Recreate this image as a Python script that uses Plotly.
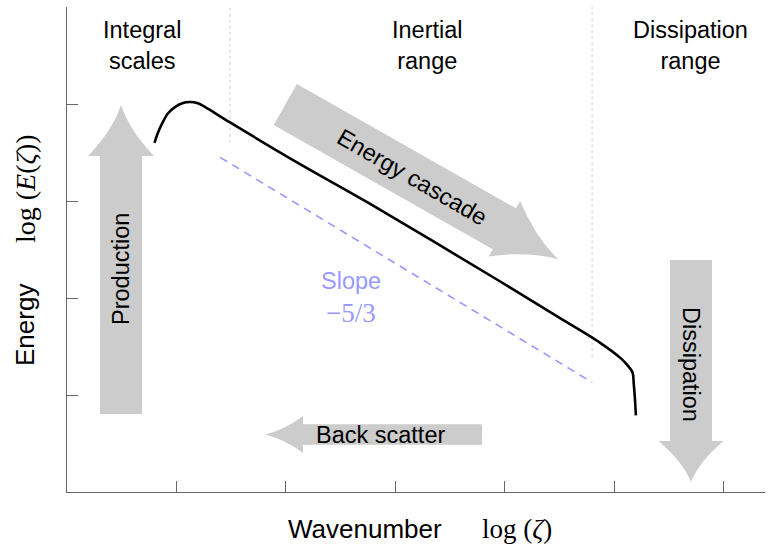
import math
import plotly.graph_objects as go

# ---- data -------------------------------------------------------------
# Schematic turbulent energy spectrum: log wavenumber vs log energy
log_k = [0.80, 0.83, 0.87, 0.92, 0.99, 1.06, 1.12, 1.19, 1.26, 1.49, 2.13,
         2.74, 3.96, 4.51, 4.87, 5.06, 5.12, 5.17, 5.18, 5.19, 5.20]
log_E = [3.60, 3.70, 3.80, 3.90, 3.97, 4.01, 4.02, 4.01, 3.97, 3.81, 3.38,
         2.99, 2.17, 1.79, 1.54, 1.38, 1.31, 1.23, 1.12, 0.98, 0.79]

# Kolmogorov -5/3 reference line
slope_k = [1.40, 4.80]
slope_E = [3.45, 1.13]

# Boundaries between the integral, inertial and dissipation ranges
divider_k = [1.49, 4.80]
divider_lo = [3.60, 1.39]

x_ticks = [1, 2, 3, 4, 5, 6]
y_ticks = [1, 2, 3, 4]

region_labels = ["Integral<br>scales", "Inertial<br>range", "Dissipation<br>range"]

# ---- layout geometry --------------------------------------------------
W, H = 768, 549
ML, MR, MT, MB = 67, 3, 7, 57
X_RANGE = [0, 6.38]
Y_RANGE = [0, 5.0]
PW, PH = W - ML - MR, H - MT - MB
SX = PW / (X_RANGE[1] - X_RANGE[0])
SY = PH / (Y_RANGE[1] - Y_RANGE[0])

SANS = "Liberation Sans, Arial, sans-serif"
SERIF = "Liberation Serif, Times New Roman, serif"
GREY = "#cccccc"
SLOPE_COLOR = "#9999ff"


def to_data(px, py):
    """Pixel position in the page -> axis data coordinates."""
    return (px - ML) / SX + X_RANGE[0], (H - MB - py) / SY + Y_RANGE[0]


def arrow_path(tail, tip, shaft_w, head_w, head_len, bow=8.0):
    """Block arrow with concave head sides, laid out in pixels."""
    dx, dy = tip[0] - tail[0], tip[1] - tail[1]
    L = math.hypot(dx, dy)
    ux, uy = dx / L, dy / L
    nx, ny = -uy, ux
    bx, by = tip[0] - ux * head_len, tip[1] - uy * head_len

    def pt(x, y):
        X, Y = to_data(x, y)
        return f"{X:.4f},{Y:.4f}"

    s, h = shaft_w / 2, head_w / 2
    t1 = (tail[0] + nx * s, tail[1] + ny * s)
    b1 = (bx + nx * s, by + ny * s)
    h1 = (bx + nx * h, by + ny * h)
    h2 = (bx - nx * h, by - ny * h)
    b2 = (bx - nx * s, by - ny * s)
    t2 = (tail[0] - nx * s, tail[1] - ny * s)
    c1 = ((h1[0] + tip[0]) / 2 - nx * bow, (h1[1] + tip[1]) / 2 - ny * bow)
    c2 = ((h2[0] + tip[0]) / 2 + nx * bow, (h2[1] + tip[1]) / 2 + ny * bow)
    return (f"M {pt(*t1)} L {pt(*b1)} L {pt(*h1)} Q {pt(*c1)} {pt(*tip)} "
            f"Q {pt(*c2)} {pt(*h2)} L {pt(*b2)} L {pt(*t2)} Z")


fig = go.Figure()

# region dividers
for k, lo in zip(divider_k, divider_lo):
    fig.add_trace(go.Scatter(
        x=[k, k], y=[lo, Y_RANGE[1]], mode="lines",
        line=dict(color="#cfcfcf", width=1, dash="dot"),
        hoverinfo="skip", showlegend=False))

# -5/3 slope guide
fig.add_trace(go.Scatter(
    x=slope_k, y=slope_E, mode="lines",
    line=dict(color=SLOPE_COLOR, width=1.6, dash="8px,6px"),
    hoverinfo="skip", showlegend=False))

# energy spectrum
fig.add_trace(go.Scatter(
    x=log_k, y=log_E, mode="lines",
    line=dict(color="black", width=2.6, shape="spline", smoothing=0.9),
    hoverinfo="skip", showlegend=False))

# process arrows
arrows = [
    dict(tail=(121, 414), tip=(121, 105), shaft_w=42, head_w=66, head_len=51),
    dict(tail=(691, 260), tip=(691, 482), shaft_w=42, head_w=65, head_len=41),
    dict(tail=(482, 434.5), tip=(265, 434.5), shaft_w=20.5, head_w=37, head_len=38, bow=5),
    dict(tail=(285.3, 104.5), tip=(558.3, 259.3), shaft_w=47, head_w=64, head_len=62),
]
for a in arrows:
    fig.add_shape(type="path", path=arrow_path(**a), xref="x", yref="y",
                  fillcolor=GREY, line=dict(width=0), layer="below")


def label(text, px, py, size=23.5, angle=0, color="black", family=SANS):
    # placed in paper units so labels outside the plotting area still show
    fig.add_annotation(x=(px - ML) / PW, y=(H - MB - py) / PH,
                       xref="paper", yref="paper", text=text,
                       showarrow=False, textangle=angle,
                       xanchor="center", yanchor="middle",
                       font=dict(family=family, size=size, color=color))


# region names
for txt, px in zip(region_labels, [142, 427, 690]):
    label(txt, px, 45)

# arrow captions
label("Production", 121, 269, angle=-90)
label("Dissipation", 691, 364, angle=90)
label("Back scatter", 380.5, 434.5)
label("Energy cascade", 412, 177, angle=30)

# slope caption
label("Slope", 351, 281, color=SLOPE_COLOR)
label("\u22125/3", 351, 313, color=SLOPE_COLOR, family=SERIF, size=27)

# axis titles
label("Wavenumber", 365, 529, size=26)
label("log (<i>\u03b6</i>)", 517, 529, size=27, family=SERIF)
label("Energy", 25, 325, size=26, angle=-90)
label("log (<i>E</i>(<i>\u03b6</i>))", 25, 189, size=28, family=SERIF, angle=-90)

axis_common = dict(showgrid=False, zeroline=False, showline=True,
                   linecolor="#666666", linewidth=1.3, ticks="inside",
                   ticklen=11, tickwidth=1.2, tickcolor="#666666",
                   showticklabels=False, fixedrange=True)

fig.update_layout(
    width=W, height=H,
    margin=dict(l=ML, r=MR, t=MT, b=MB),
    paper_bgcolor="white", plot_bgcolor="white",
    xaxis=dict(range=X_RANGE, tickvals=x_ticks, **axis_common),
    yaxis=dict(range=Y_RANGE, tickvals=y_ticks, **axis_common),
    showlegend=False,
)

fig.write_html("out.html")
